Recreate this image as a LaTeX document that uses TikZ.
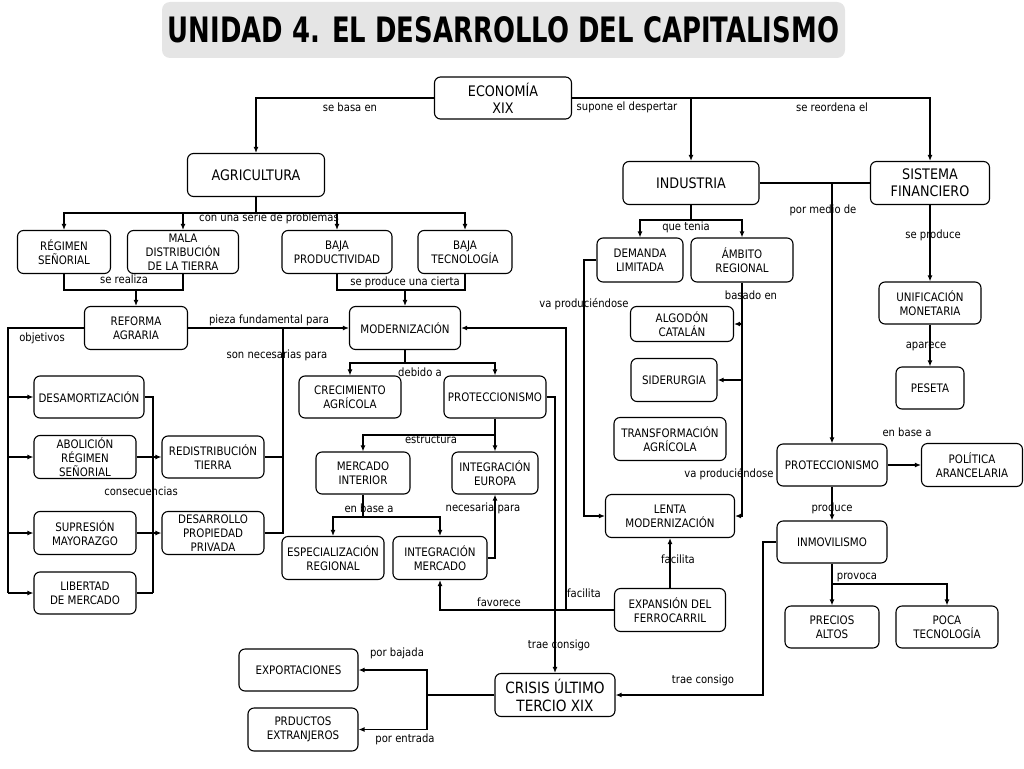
\documentclass[tikz,border=0pt]{standalone}
\usepackage{fontspec}
\setmainfont{DejaVu Sans}[FakeStretch=0.88]
\newfontfamily\titlefont{DejaVu Sans}[FakeStretch=0.74]
\usetikzlibrary{arrows.meta}

\tikzset{
  concepto/.style={draw, rounded corners=6pt, fill=white, align=center, line width=1.1pt, inner sep=1pt, minimum height=43, font=\fontsize{11.7}{13.8}\selectfont},
  grande/.style={concepto, font=\fontsize{14.5}{17}\selectfont},
  titulo/.style={fill=gray!20, rounded corners=8pt, minimum width=683, minimum height=56, inner sep=0pt, font=\titlefont\bfseries\fontsize{35}{40}\selectfont},
  enlace/.style={inner sep=0pt, font=\fontsize{11.4}{13}\selectfont},
  linea/.style={line width=1.4pt},
  flecha/.style={line width=1.4pt, -{Latex[length=6pt,width=5pt]}},
}

\begin{document}
\begin{tikzpicture}[x=1pt,y=1pt,yscale=-1]
\useasboundingbox (0,0) rectangle (1024,768);

%Shape: Title
\node[titulo] (tit) at (503.5,30) {UNIDAD 4. EL DESARROLLO DEL CAPITALISMO};

%Shape: Rounded Rect (main concepts)
\node[grande, minimum width=137, minimum height=42] (economia) at (503,98) {ECONOMÍA\\XIX};
\node[grande, minimum width=137] (agricultura) at (256,175) {AGRICULTURA};
\node[grande, minimum width=136] (industria) at (691,183) {INDUSTRIA};
\node[grande, minimum width=119] (sistema) at (930,183) {SISTEMA\\FINANCIERO};
\node[grande, minimum width=120, font=\fontsize{15.5}{18}\selectfont] (crisis) at (555,695) {CRISIS ÚLTIMO\\TERCIO XIX};

%Shape: Rounded Rect (agricultura)
\node[concepto, minimum width=93] (regimen) at (64,252) {RÉGIMEN\\SEÑORIAL};
\node[concepto, minimum width=111] (mala) at (183,252) {MALA\\DISTRIBUCIÓN\\DE LA TIERRA};
\node[concepto, minimum width=110] (bajaprod) at (337,252) {BAJA\\PRODUCTIVIDAD};
\node[concepto, minimum width=94] (bajatec) at (465,252) {BAJA\\TECNOLOGÍA};
\node[concepto, minimum width=103] (reforma) at (136,328) {REFORMA\\AGRARIA};
\node[concepto, minimum width=111] (moder) at (405,328) {MODERNIZACIÓN};
\node[concepto, minimum width=110, minimum height=42] (desamort) at (89,397) {DESAMORTIZACIÓN};
\node[concepto, minimum width=102] (abolicion) at (85,457) {ABOLICIÓN\\RÉGIMEN\\SEÑORIAL};
\node[concepto, minimum width=102] (supresion) at (85,533) {SUPRESIÓN\\MAYORAZGO};
\node[concepto, minimum width=102, minimum height=42] (libertad) at (85,593) {LIBERTAD\\DE MERCADO};
\node[concepto, minimum width=102, minimum height=42] (redist) at (213,457) {REDISTRIBUCIÓN\\TIERRA};
\node[concepto, minimum width=102] (desarrollo) at (213,533) {DESARROLLO\\PROPIEDAD\\PRIVADA};
\node[concepto, minimum width=102, minimum height=42] (crecim) at (350,397) {CRECIMIENTO\\AGRÍCOLA};
\node[concepto, minimum width=102, minimum height=42] (protec) at (495,397) {PROTECCIONISMO};
\node[concepto, minimum width=94, minimum height=42] (mercado) at (363,473) {MERCADO\\INTERIOR};
\node[concepto, minimum width=86, minimum height=42] (integeur) at (495,473) {INTEGRACIÓN\\EUROPA};
\node[concepto, minimum width=102] (especial) at (333,558) {ESPECIALIZACIÓN\\REGIONAL};
\node[concepto, minimum width=94] (integmer) at (440,558) {INTEGRACIÓN\\MERCADO};

%Shape: Rounded Rect (industria)
\node[concepto, minimum width=86, minimum height=44] (demanda) at (640,260) {DEMANDA\\LIMITADA};
\node[concepto, minimum width=102, minimum height=44] (ambito) at (742,260) {ÁMBITO\\REGIONAL};
\node[concepto, minimum width=103, minimum height=35] (algodon) at (682,324) {ALGODÓN\\CATALÁN};
\node[concepto, minimum width=86] (siderurgia) at (674,380) {SIDERURGIA};
\node[concepto, minimum width=112] (transform) at (670,439) {TRANSFORMACIÓN\\AGRÍCOLA};
\node[concepto, minimum width=129] (lenta) at (670,516) {LENTA\\MODERNIZACIÓN};
\node[concepto, minimum width=111] (expansion) at (670,610) {EXPANSIÓN DEL\\FERROCARRIL};

%Shape: Rounded Rect (sistema financiero)
\node[concepto, minimum width=102, minimum height=42] (unific) at (930,303) {UNIFICACIÓN\\MONETARIA};
\node[concepto, minimum width=68, minimum height=42] (peseta) at (930,388) {PESETA};
\node[concepto, minimum width=110, minimum height=42] (protec2) at (832,465) {PROTECCIONISMO};
\node[concepto, minimum width=101] (politica) at (972,465) {POLÍTICA\\ARANCELARIA};
\node[concepto, minimum width=110, minimum height=42] (inmov) at (832,542) {INMOVILISMO};
\node[concepto, minimum width=94, minimum height=42] (precios) at (832,627) {PRECIOS\\ALTOS};
\node[concepto, minimum width=102, minimum height=42] (poca) at (947,627) {POCA\\TECNOLOGÍA};

%Shape: Rounded Rect (crisis)
\node[concepto, minimum width=119, minimum height=42] (export) at (298.5,670) {EXPORTACIONES};
\node[concepto, minimum width=110] (prductos) at (303,729.5) {PRDUCTOS\\EXTRANJEROS};

%Junctions
\coordinate (agr1) at (256,213);
\coordinate (ref1) at (136,290);
\coordinate (mod1) at (405,290);
\coordinate (obj1) at (8,593);
\coordinate (con1) at (153,593);
\coordinate (nec1) at (283,328);
\coordinate (deb1) at (405,363);
\coordinate (est1) at (495,435);
\coordinate (mer1) at (363,517);
\coordinate (fac1) at (566,610);
\coordinate (ind1) at (691,220);
\coordinate (dem1) at (584,516);
\coordinate (inm1) at (832,584);
\coordinate (tra1) at (763,695);
\coordinate (cri1) at (427,695);

%Connectors
\draw[flecha] (economia.west) -| (agricultura.north);
\draw[flecha] (economia.east) -| (sistema.north);
\draw[flecha] (economia.east -| industria.north) -- (industria.north);

\draw[linea] (agricultura.south) -- (agr1);
\draw[flecha] (agr1) -| (regimen.north);
\draw[flecha] (agr1) -| (mala.north);
\draw[flecha] (agr1) -| (bajaprod.north);
\draw[flecha] (agr1) -| (bajatec.north);

\draw[linea] (regimen.south) |- (ref1) -| (mala.south);
\draw[flecha] (ref1) -- (reforma.north);
\draw[linea] (bajaprod.south) |- (mod1) -| (bajatec.south);
\draw[flecha] (mod1) -- (moder.north);

\draw[flecha] (reforma.east) -- (moder.west);
\draw[linea] (redist.east) -| (nec1);
\draw[linea] (desarrollo.east) -| (nec1);

\draw[linea] (reforma.west) -| (obj1);
\draw[flecha] (desamort.west -| obj1) -- (desamort.west);
\draw[flecha] (abolicion.west -| obj1) -- (abolicion.west);
\draw[flecha] (supresion.west -| obj1) -- (supresion.west);
\draw[flecha] (obj1) -- (libertad.west);

\draw[linea] (desamort.east) -| (con1);
\draw[linea] (libertad.east) -- (con1);
\draw[flecha] (abolicion.east) -- (redist.west);
\draw[flecha] (supresion.east) -- (desarrollo.west);

\draw[linea] (moder.south) -- (deb1);
\draw[flecha] (deb1) -| (crecim.north);
\draw[flecha] (deb1) -| (protec.north);

\draw[linea] (protec.south) -- (est1);
\draw[flecha] (est1) -| (mercado.north);
\draw[flecha] (est1) -- (integeur.north);

\draw[linea] (mercado.south) -- (mer1);
\draw[flecha] (mer1) -| (especial.north);
\draw[flecha] (mer1) -| (integmer.north);
\draw[flecha] (integmer.east) -| (integeur.south);

\draw[flecha] (expansion.west) -| (integmer.south);
\draw[flecha] (fac1) |- (moder.east);
\draw[flecha] (protec.east) -| (crisis.north);

\draw[linea] (industria.south) -- (ind1);
\draw[flecha] (ind1) -| (demanda.north);
\draw[flecha] (ind1) -| (ambito.north);
\draw[flecha] (demanda.west) -| (dem1) -- (lenta.west);
\draw[flecha] (ambito.south) |- (lenta.east);
\draw[flecha] (ambito.south |- algodon.east) -- (algodon.east);
\draw[flecha] (ambito.south |- siderurgia.east) -- (siderurgia.east);
\draw[flecha] (expansion.north) -- (lenta.south);

\draw[linea] (industria.east) -- (sistema.west);
\draw[flecha] (industria.east -| protec2.north) -- (protec2.north);
\draw[flecha] (sistema.south) -- (unific.north);
\draw[flecha] (unific.south) -- (peseta.north);
\draw[flecha] (protec2.east) -- (politica.west);
\draw[flecha] (protec2.south) -- (inmov.north);
\draw[linea] (inmov.south) -- (inm1);
\draw[flecha] (inm1) -- (precios.north);
\draw[flecha] (inm1) -| (poca.north);
\draw[flecha] (inmov.west) -| (tra1) -- (crisis.east);

\draw[linea] (crisis.west) -- (cri1);
\draw[flecha] (cri1) |- (export.east);
\draw[flecha] (cri1) |- (prductos.east);

% Text Node
\node[enlace] (lbasa) at (350,107) {se basa en};
\node[enlace] (lsupone) at (627,107) {supone el despertar};
\node[enlace] (lreord) at (832,107) {se reordena el};
\node[enlace] (lserie) at (269,218) {con una serie de problemas};
\node[enlace] (lrealiza) at (124,279) {se realiza};
\node[enlace] (lcierta) at (405,282) {se produce una cierta};
\node[enlace] (lpieza) at (269,320) {pieza fundamental para};
\node[enlace] (lnecesarias) at (277,355) {son necesarias para};
\node[enlace] (lobjetivos) at (42,338) {objetivos};
\node[enlace] (lconsec) at (141,491) {consecuencias};
\node[enlace] (ldebido) at (420,372) {debido a};
\node[enlace] (lestruct) at (431,440) {estructura};
\node[enlace] (lbase) at (369,508) {en base a};
\node[enlace] (lnecesaria) at (483,508) {necesaria para};
\node[enlace] (lfavorece) at (499,602) {favorece};
\node[enlace] (lfacilita) at (584,593) {facilita};
\node[enlace] (ltrae) at (559,645) {trae consigo};
\node[enlace] (ltenia) at (686,227) {que tenia};
\node[enlace] (lvapro) at (584,304) {va produciéndose};
\node[enlace] (lbasado) at (751,295) {basado en};
\node[enlace] (lvapro2) at (729,474) {va produciéndose};
\node[enlace] (lfacilita2) at (678,559) {facilita};
\node[enlace] (lmedio) at (823,210) {por medio de};
\node[enlace] (lseprod) at (933,235) {se produce};
\node[enlace] (laparece) at (926,346) {aparece};
\node[enlace] (lenbase) at (907,432) {en base a};
\node[enlace] (lproduce) at (832,508) {produce};
\node[enlace] (lprovoca) at (857,577) {provoca};
\node[enlace] (ltrae2) at (703,680) {trae consigo};
\node[enlace] (lbajada) at (397,653) {por bajada};
\node[enlace] (lentrada) at (405,739) {por entrada};

\end{tikzpicture}
\end{document}
